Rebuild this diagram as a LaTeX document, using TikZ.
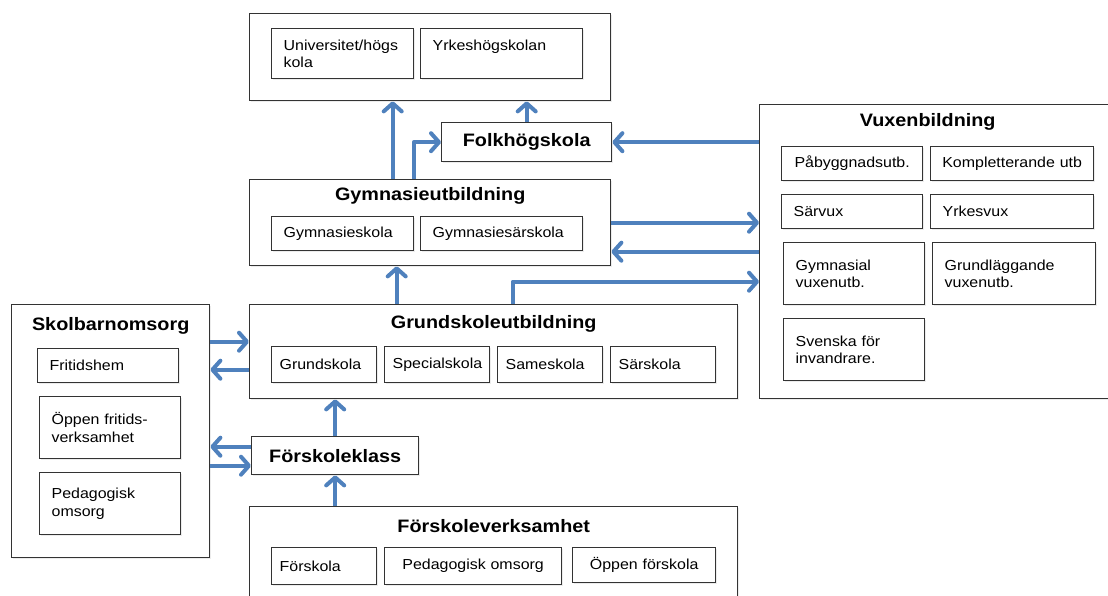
\documentclass[tikz,border=0pt]{standalone}
\usepackage{fontspec}
\setmainfont{Liberation Sans}[FakeStretch=1.1]
\usetikzlibrary{positioning,arrows.meta,shadows}
\definecolor{flowblue}{HTML}{4F81BD}
\definecolor{boxline}{HTML}{333333}

\begin{document}
\begin{tikzpicture}[x=1pt, y=-1pt,
  areabox/.style = {draw=boxline, line width=1.4pt, fill=white, anchor=north west, inner sep=0pt,
    drop shadow={shadow xshift=1.5pt, shadow yshift=-1.5pt, opacity=0.15}},
  subbox/.style = {draw=boxline, line width=1.3pt, fill=white, anchor=north west, align=left,
    inner xsep=12pt, inner ysep=0pt, font=\fontsize{14.5}{17.5}\selectfont,
    drop shadow={shadow xshift=1.5pt, shadow yshift=-1.5pt, opacity=0.15}},
  areatitle/.style = {inner sep=0pt, text height=13pt, text depth=4pt, font=\fontsize{18}{22}\selectfont\bfseries},
  stagebox/.style = {areabox, anchor=north west, font=\fontsize{18}{22}\selectfont\bfseries},
  flow/.style = {draw=flowblue, line width=4pt, line join=round, -{Straight Barb[length=8pt, width=18pt, round]}}]
\useasboundingbox (0,0) rectangle (1108,596);

% hogre utbildning
\node[areabox, minimum width=361pt, minimum height=87pt] (hogre) at (249,13) {};
\node[subbox, text width=118pt, minimum height=50pt] (univ) at (271,28) {Universitet/högs\\kola};
\node[subbox, text width=138pt, minimum height=50pt] (yh) at (420,28) {Yrkeshögskolan\\\mbox{}};

\node[stagebox, minimum width=170pt, minimum height=39pt] (folk) at (441,122) {Folkhögskola};

% gymnasiet
\node[areabox, minimum width=361pt, minimum height=86pt] (gym) at (249,179) {};
\node[areatitle, below=8pt of gym.north] (gymtitle) {Gymnasieutbildning};
\node[subbox, text width=118pt, minimum height=34pt] (gymskola) at (271,216) {Gymnasieskola};
\node[subbox, text width=138pt, minimum height=34pt] (gymsar) at (420,216) {Gymnasiesärskola};

% grundskolan
\node[areabox, minimum width=488pt, minimum height=94pt] (grund) at (249,304) {};
\node[areatitle, below=11pt of grund.north] (grundtitle) {Grundskoleutbildning};
\node[subbox, inner xsep=8pt, text width=89pt, minimum height=36pt] (grundskola) at (271,346) {Grundskola};
\node[subbox, inner xsep=8pt, text width=89pt, minimum height=36pt] (special) at (384,346) {Specialskola};
\node[subbox, inner xsep=8pt, text width=89pt, minimum height=36pt] (same) at (497,346) {Sameskola};
\node[subbox, inner xsep=8pt, text width=89pt, minimum height=36pt] (sarskola) at (610,346) {Särskola};

\node[stagebox, minimum width=167pt, minimum height=38pt] (fklass) at (251,436) {Förskoleklass};

% forskola
\node[areabox, minimum width=488pt, minimum height=100pt] (fverk) at (249,506) {};
\node[areatitle, below=13pt of fverk.north] (fverktitle) {Förskoleverksamhet};
\node[subbox, inner xsep=8pt, text width=89pt, minimum height=37pt] (forskola) at (271,547) {Förskola};
\node[subbox, align=center, text width=153pt, minimum height=37pt] (pedomsorg) at (384,547) {Pedagogisk omsorg};
\node[subbox, align=center, text width=119pt, minimum height=35pt] (oppenfsk) at (572,547) {Öppen förskola};

% skolbarnomsorg
\node[areabox, minimum width=198pt, minimum height=253pt] (skol) at (11,304) {};
\node[areatitle, below=13pt of skol.north] (skoltitle) {Skolbarnomsorg};
\node[subbox, text width=117pt, minimum height=34pt] (fritid) at (37,348) {Fritidshem};
\node[subbox, text width=117pt, minimum height=62pt] (oppfrit) at (39,396) {Öppen fritids-\\verksamhet};
\node[subbox, text width=117pt, minimum height=62pt] (pedomsorg2) at (39,472) {Pedagogisk\\omsorg};

% vuxenutbildning
\node[areabox, minimum width=360pt, minimum height=294pt] (vux) at (759,104) {};
\node[areatitle, below=9pt of vux.north, xshift=-12pt] (vuxtitle) {Vuxenbildning};
\node[subbox, align=center, text width=117pt, minimum height=34pt] (pabygg) at (781,146) {Påbyggnadsutb.};
\node[subbox, align=center, inner xsep=5pt, text width=153pt, minimum height=34pt] (kompl) at (930,146) {Kompletterande utb};
\node[subbox, text width=117pt, minimum height=34pt] (sarvux) at (781,194) {Särvux};
\node[subbox, text width=139pt, minimum height=34pt] (yrkesvux) at (930,194) {Yrkesvux};
\node[subbox, text width=117pt, minimum height=62pt] (gymvux) at (783,242) {Gymnasial\\vuxenutb.};
\node[subbox, text width=139pt, minimum height=62pt] (grundvux) at (932,242) {Grundläggande\\vuxenutb.};
\node[subbox, text width=117pt, minimum height=62pt] (sfi) at (783,318) {Svenska för\\invandrare.};

% pilar
\draw[flow] ([xshift=-37.5pt]gym.north) -- ([xshift=-37.5pt]gym.north |- hogre.south);
\draw[flow] ([xshift=-16.5pt]gym.north) |- (folk.west);
\draw[flow] (folk.north) -- (folk.north |- hogre.south);
\draw[flow] (vux.west |- folk.east) -- (folk.east);
\draw[flow] (gym.east) -- (gym.east -| vux.west);
\draw[flow] (vux.west) -- (vux.west -| gym.east);
\draw[flow] ([xshift=19pt]grund.north) |- ([yshift=-30pt]vux.west);
\draw[flow] ([xshift=-97pt]grund.north) -- ([xshift=-97pt]grund.north |- gym.south);
\draw[flow] ([yshift=10pt]skol.east |- grund.west) -- ([yshift=10pt]grund.west);
\draw[flow] ([yshift=-18pt]grund.west) -- ([yshift=-18pt]skol.east |- grund.west);
\draw[flow] ([yshift=9pt]fklass.west) -- ([yshift=9pt]skol.east |- fklass.west);
\draw[flow] ([yshift=-10pt]skol.east |- fklass.west) -- ([yshift=-10pt]fklass.west);
\draw[flow] (fklass.north) -- (fklass.north |- grund.south);
\draw[flow] (fklass.north |- fverk.north) -- (fklass.south);
\end{tikzpicture}
\end{document}
